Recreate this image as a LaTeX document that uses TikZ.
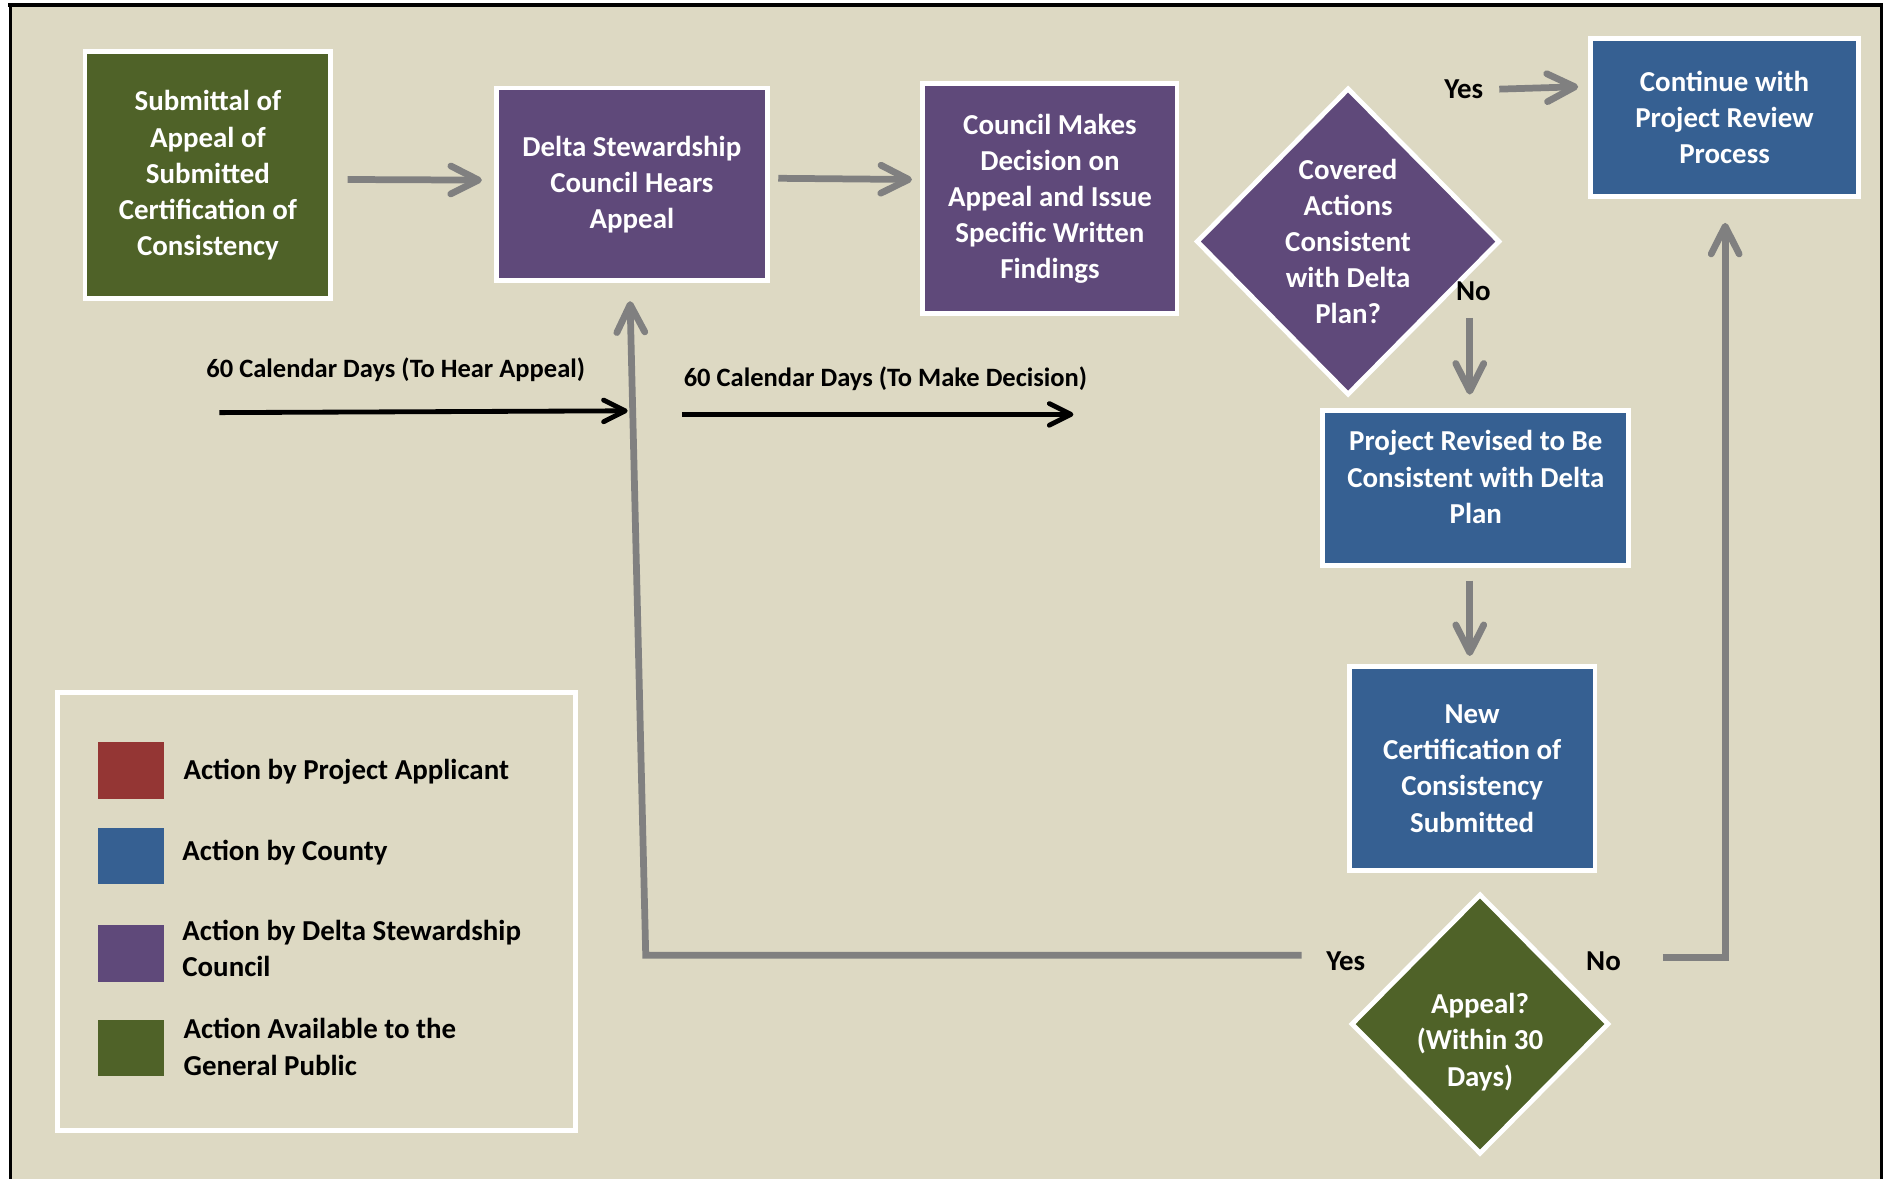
\documentclass[tikz,border=0pt]{standalone}
\usepackage{fontspec}
\setmainfont{Carlito}
\usetikzlibrary{arrows.meta,shapes.geometric,calc}
\definecolor{bgtan}{HTML}{DDD9C3}
\definecolor{cgreen}{HTML}{4F6228}
\definecolor{cpurple}{HTML}{5F497A}
\definecolor{cblue}{HTML}{366092}
\definecolor{cred}{HTML}{943634}
\definecolor{cgray}{HTML}{808080}
\tikzset{
  box/.style={draw=white, line width=2pt, inner sep=0pt, align=center, text=white,
    font=\bfseries\fontsize{12}{15}\selectfont},
  dia/.style={box, diamond, aspect=1},
  inlbl/.style={text=white, align=center, inner sep=0pt, font=\bfseries\fontsize{12}{15}\selectfont},
  lbl/.style={inner sep=0pt, text=black, font=\bfseries\fontsize{12}{15}\selectfont},
  daylbl/.style={inner sep=0pt, text=black, font=\bfseries\fontsize{11}{13}\selectfont},
  flow/.style={draw=cgray, line width=2.8pt, -{Straight Barb[length=11.5pt,width=11.6pt,round]}},
  timeline/.style={draw=black, line width=2pt, -{Straight Barb[length=9pt,width=9pt,round]}},
  swatch/.style={minimum width=27.25pt, minimum height=23.5pt, inner sep=0pt},
  legtext/.style={anchor=west, inner sep=0pt, align=left, text=black,
    font=\bfseries\fontsize{12}{15}\selectfont},
}
\begin{document}
\begin{tikzpicture}[x=0.5pt, y=-0.5pt]
\useasboundingbox (0,0) rectangle (1568,978.7);
% frame
\fill[white] (0,0) rectangle (1568,978.7);
\fill[bgtan] (8,4) rectangle (1561.5,978.7);
\draw[line width=1.7pt] (7,4.5) -- (1563,4.5);
\draw[line width=1.2pt] (8.5,4) -- (8.5,978.7);
\draw[line width=1.2pt] (1561.5,4) -- (1561.5,978.7);

% process nodes
\node[box, fill=cgreen, minimum width=102pt, minimum height=102.5pt] (sub) at (172.6,145.5)
  {Submittal of\\Appeal of\\Submitted\\Certification of\\Consistency};
\node[box, fill=cpurple, minimum width=112.5pt, minimum height=80pt] (hear) at (524.5,153)
  {Delta Stewardship\\Council Hears\\Appeal};
\node[box, fill=cpurple, minimum width=105.5pt, minimum height=95.5pt] (dec) at (871.5,165)
  {Council Makes\\Decision on\\Appeal and Issue\\Specific Written\\Findings};
\node[dia, fill=cpurple, minimum width=126pt, minimum height=127.5pt] (cov) at (1119,200.5)
  {Covered\\Actions\\Consistent\\with Delta\\Plan?};
\node[box, fill=cblue, minimum width=111.5pt, minimum height=65.5pt] (cont) at (1431.5,97.5)
  {Continue with\\Project Review\\Process};
\node[box, fill=cblue, minimum width=127pt, minimum height=64.5pt,
  label={[inlbl, yshift=4.5pt]center:{Project Revised to Be\\Consistent with Delta\\Plan}}] (rev) at (1225,405) {};
\node[box, fill=cblue, minimum width=102pt, minimum height=84.5pt] (newc) at (1222,638)
  {New\\Certification of\\Consistency\\Submitted};
\node[dia, fill=cgreen, minimum width=107pt, minimum height=108pt,
  label={[inlbl, yshift=-7.5pt]center:{Appeal?\\(Within 30\\Days)}}] (app) at (1228.5,850) {};

% branch labels
\node[lbl] (yes1) at (1215,74) {Yes};
\node[lbl] (no1) at (1223,242) {No};
\node[lbl] (yes2) at (1117,798) {Yes};
\node[lbl] (no2) at (1331,798) {No};

% time lines
\node[daylbl] (d1) at (328.5,307) {60 Calendar Days (To Hear Appeal)};
\node[daylbl] (d2) at (735,314) {60 Calendar Days (To Make Decision)};
\coordinate (t1s) at (182,342.5);
\coordinate (t1e) at (521,341);
\coordinate (t2s) at (566,344);
\coordinate (t2e) at (891,344);
\draw[timeline] (t1s) -- (t1e);
\draw[timeline] (t2s) -- (t2e);

% flow arrows
\draw[flow] ([shift={(12,3.5)}]sub.east) -- ([shift={(-10,-3.5)}]hear.west);
\draw[flow] ([shift={(7,-5)}]hear.east) -- ([shift={(-7,-16)}]dec.west);
\draw[flow] ([shift={(13,0)}]yes1.east) -- ([shift={(-8,-25.5)}]cont.west);
\draw[flow] ([shift={(-3,13.5)}]no1.south) -- ([shift={(-5,-11)}]rev.north);
\draw[flow] ([shift={(-5,10.4)}]rev.south) -- ([shift={(-2,-7)}]newc.north);
\coordinate (c1) at (536,793);
\draw[flow] ([shift={(-20,-5)}]yes2.west) -- (c1) -- ([shift={(-1.5,15)}]hear.south);
\coordinate (c2) at (1432,795);
\draw[flow] ([shift={(34.5,-3)}]no2.east) -- (c2) -- ([shift={(0.5,20)}]cont.south);

% legend
\node[draw=white, line width=2pt, minimum width=215pt, minimum height=182pt, inner sep=0pt] (leg) at (263,756.5) {};
\node[swatch, fill=cred] (sw1) at (108.75,639.5) {};
\node[swatch, fill=cblue] (sw2) at (108.75,710.5) {};
\node[swatch, fill=cpurple] (sw3) at (108.75,791.7) {};
\node[swatch, fill=cgreen] (sw4) at (108.75,870) {};
\node[legtext] (lt1) at (152,641) {Action by Project Applicant};
\node[legtext] (lt2) at (151,708) {Action by County};
\node[legtext] (lt3) at (151,787.5) {Action by Delta Stewardship\\Council};
\node[legtext] (lt4) at (152,869) {Action Available to the\\General Public};
\end{tikzpicture}
\end{document}
